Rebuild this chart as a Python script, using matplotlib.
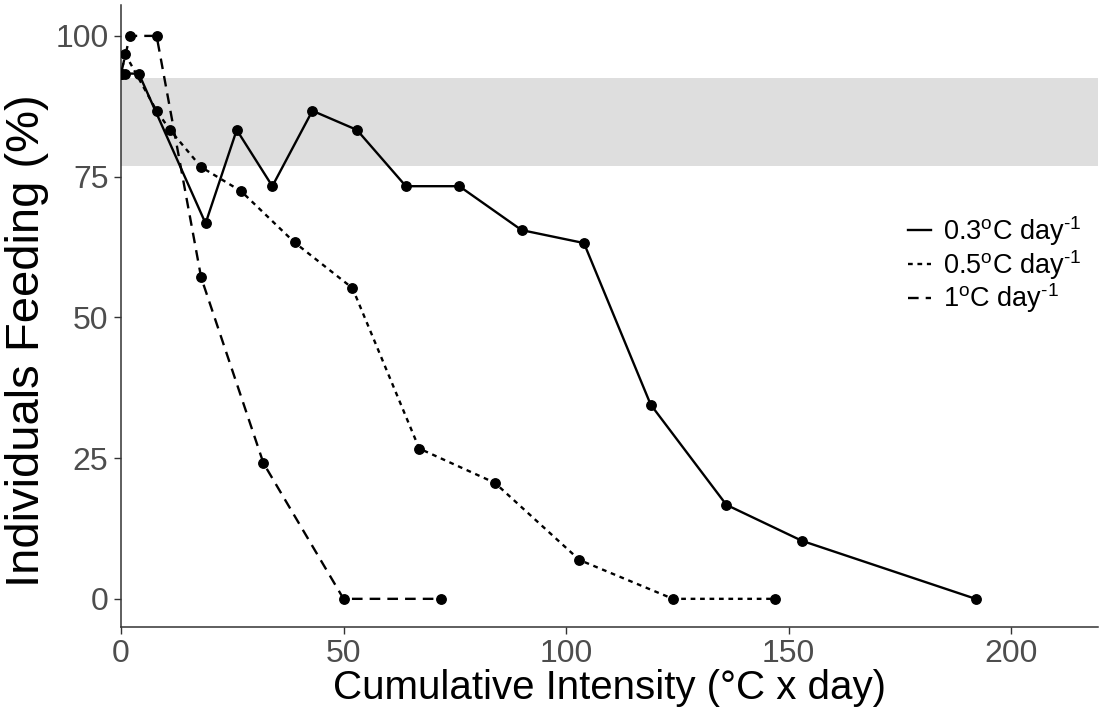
import matplotlib
matplotlib.use('Agg')
import matplotlib.pyplot as plt
from matplotlib.lines import Line2D

plt.rcParams.update({
    'font.family': ['Liberation Sans', 'DejaVu Sans'],
    'mathtext.fontset': 'custom',
    'mathtext.rm': 'Liberation Sans',
    'mathtext.it': 'Liberation Sans',
})

# 0.3 C/day
x_03 = [0, 1, 4, 19, 26, 34, 43, 53, 64, 76, 90, 104, 119, 136, 153, 192]
y_03 = [93.3, 93.3, 93.3, 66.7, 83.3, 73.3, 86.7, 83.3, 73.3, 73.3, 65.5, 63.2, 34.5, 16.7, 10.3, 0]
# 0.5 C/day
x_05 = [0, 1, 8, 11, 18, 27, 39, 52, 67, 84, 103, 124, 147]
y_05 = [93.3, 96.7, 86.7, 83.3, 76.7, 72.4, 63.3, 55.2, 26.7, 20.6, 6.9, 0, 0]
# 1 C/day
x_1 = [0, 2, 8, 18, 32, 50, 72]
y_1 = [93.3, 100, 100, 57.1, 24.1, 0, 0]

band_lo, band_hi = 76.9, 92.6

labels = ['0.3$^{o}$C day$^{\\text{-1}}$', '0.5$^{o}$C day$^{\\text{-1}}$',
          '1$^{o}$C day$^{\\text{-1}}$']
styles = ['-', (0, (2, 2)), (0, (4.5, 3))]

fig = plt.figure(figsize=(11.06, 7.25), dpi=100)
ax = fig.add_axes([0.1094, 0.1352, 0.8834, 0.858])

ax.axhspan(band_lo, band_hi, color='#DEDEDE', lw=0, zorder=0)

for xs, ys, ls in zip([x_03, x_05, x_1], [y_03, y_05, y_1], styles):
    ax.plot(xs, ys, color='black', linestyle=ls, lw=1.7, marker='o',
            markersize=6.8, zorder=3)

ax.set_xlim(0, 219.5)
ax.set_ylim(-5, 105.5)
ax.set_xticks([0, 50, 100, 150, 200])
ax.set_yticks([0, 25, 50, 75, 100])

for s in ['top', 'right']:
    ax.spines[s].set_visible(False)
for s in ['left', 'bottom']:
    ax.spines[s].set_color('#333333')
    ax.spines[s].set_linewidth(1.1)
ax.tick_params(axis='both', colors='#333333', length=5, width=1.0,
               labelsize=23, labelcolor='#4D4D4D', pad=4)

ax.set_xlabel('Cumulative Intensity (°C x day)', fontsize=29, labelpad=0)
ax.set_ylabel('Individuals Feeding (%)', fontsize=34)
ax.yaxis.set_label_coords(-0.074, 0.46)

handles = [Line2D([], [], color='black', lw=1.7, linestyle=ls) for ls in styles]
ax.legend(handles, labels, loc='center left', bbox_to_anchor=(0.821, 0.635),
          bbox_transform=fig.transFigure, frameon=False, fontsize=19.5,
          handlelength=0.85, handletextpad=0.45, labelspacing=0.0,
          borderaxespad=0, borderpad=0)

fig.savefig('out.png', dpi=100)
